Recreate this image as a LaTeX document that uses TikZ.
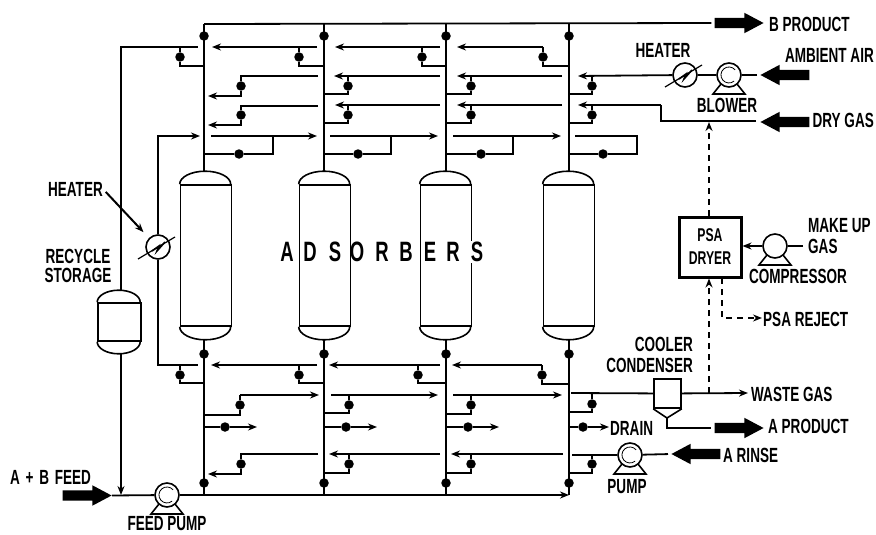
\documentclass[tikz,border=0pt]{standalone}
\usepackage{fontspec}
\setmainfont[FakeStretch=0.66]{Liberation Sans}
\usepackage{tikz}
\usetikzlibrary{shapes.arrows, arrows.meta}

\tikzset{
  pipe/.style={line width=1.8pt},
  dashline/.style={line width=1.5pt, dash pattern=on 6pt off 5pt},
  valve/.style={circle, fill=black, inner sep=0pt, minimum size=9.5pt},
  tank/.style={rectangle, draw, line width=1.6pt, inner sep=0pt},
  rotary/.style={circle, draw, fill=white, line width=1.6pt, inner sep=0pt, minimum size=24pt},
  fatarrow/.style={single arrow, anchor=tip, fill=black, inner sep=5pt, minimum height=49pt, minimum width=20pt, single arrow head extend=5pt, single arrow tip angle=56},
  lbl/.style={font=\fontsize{20.5}{22}\selectfont\bfseries, inner sep=0pt},
  bigletter/.style={font=\fontsize{28}{30}\selectfont\bfseries, inner sep=1pt},
}
\newcommand{\rotarybase}[1]{\draw[line width=1.6pt] (#1.center) +(-8,9) -- +(-16,19) -- +(16,19) -- +(8,9);}
\newcommand{\rotaryswirl}[1]{\draw[line width=.8pt] (#1.center) ++(5.1,6.1) arc[start angle=50, end angle=320, radius=8];}
\newcommand{\heatermark}[1]{
  \draw[line width=1.2pt] (#1.center) +(-20,12) -- +(17,-10);
  \draw[line width=1.6pt] (#1.center) +(-6,4) -- +(1,-1) -- +(-1,4) -- +(7,-5);
}

\begin{document}
\begin{tikzpicture}[x=1pt, y=-1pt, >={Stealth[length=9pt,width=7pt]}]
    \useasboundingbox (0,0) rectangle (876,535);

    % Adsorbers with their columns and valves
    \foreach \n/\xc/\xv in {1/204/206, 2/324/325, 3/446/446, 4/569/569}{
        \coordinate (head\n) at (\xc,24);
        \coordinate (foot\n) at (\xc,495);
        \coordinate (domet\n) at (\xc,172);
        \coordinate (domeb\n) at (\xc,339);
        \node[tank, minimum width=51pt, minimum height=141pt] (ves\n) at (\xv,255.5) {};
        \draw[line width=1.6pt] (ves\n.north west) arc[start angle=180, end angle=360, x radius=25.5, y radius=13];
        \draw[line width=1.6pt] (ves\n.south west) arc[start angle=180, end angle=0, x radius=25.5, y radius=13];
        \draw[pipe] (head\n) -- (domet\n);
        \draw[pipe] (domeb\n) -- (foot\n);
        \node[valve] (valu\n) at (\xc,36) {};
        \node[valve] (vall\n) at (\xc,354) {};
        \node[valve] (valf\n) at (\xc,483) {};
    }

    % Header and feed line
    \node[fatarrow] (bprod) at (764,23) {};
    \draw[pipe, shorten >=3pt] (head1) -- (bprod.tail);
    \node[fatarrow] (feed) at (112,495.5) {};
    \node[rotary] (feedpump) at (167,495) {};
    \rotarybase{feedpump}
    \rotaryswirl{feedpump}
    \draw[pipe] (feed.tip) -- (feedpump);
    \draw[pipe, ->] (feedpump) -- (foot4);

    % Branch lines between the columns: name/tip/end/valve/column/line/valve y/join y
    \foreach \n/\xa/\xb/\xv/\xc/\ya/\yv/\yj in {
        a1/212/317/299/324/47/57/66, a2/335/440/422/446/47/57/66, a3/457/543/543/569/47/57/66,
        b2/334/440/348/324/76/86/94, b3/457/562/471/446/76/86/94,
        c2/335/440/348/324/105/115/123, c3/457/562/471/446/105/115/123,
        e1/211/317/299/324/365/375/383, e2/329/440/418/446/365/375/383, e3/452/542/542/568/365/375/384,
        f1/319/240/240/204/395/405/415, f2/438/331/349/324/395/405/413, f3/562/453/471/446/395/405/414,
        h2/329/440/349/324/454/464/473, h3/451/563/471/446/454/464/473}{
        \coordinate (tip\n) at (\xa,\ya);
        \coordinate (end\n) at (\xb,\ya);
        \coordinate (join\n) at (\xc,\yj);
        \node[valve] (val\n) at (\xv,\yv) {};
        \draw[pipe, ->] (end\n) -- (tip\n);
        \draw[pipe] (val\n |- tip\n) -- (val\n) |- (join\n);
    }

    % Stepped lines in the first bay
    \foreach \n/\ya/\yv/\yb in {b1/76/86/96, c1/106/115/125, h1/454/464/474}{
        \coordinate (end\n) at (318,\ya);
        \coordinate (tip\n) at (208,\yb);
        \node[valve] (val\n) at (241,\yv) {};
        \draw[pipe] (end\n) -| (val\n);
        \draw[pipe, ->] (val\n) |- (tip\n);
    }

    % Regeneration loops
    \foreach \n/\xa/\xb/\xr/\xd/\xc in {1/211/317/273/239/204, 2/330/438/391/358/324, 3/453/561/513/481/446}{
        \coordinate (startd\n) at (\xa,136);
        \coordinate (tipd\n) at (\xb,136);
        \coordinate (joind\n) at (\xc,154);
        \node[valve] (vald\n) at (\xd,154) {};
        \draw[pipe, ->] (startd\n) -- (tipd\n);
        \draw[pipe] (\xr,136) |- (vald\n);
        \draw[pipe] (vald\n) -- (joind\n);
    }
    \coordinate (startd4) at (575,136);
    \coordinate (joind4) at (569,154);
    \node[valve] (vald4) at (603,154) {};
    \draw[pipe] (startd4) -| (637,154) -- (vald4);
    \draw[pipe] (vald4) -- (joind4);

    % Drains
    \foreach \n/\xc/\xd/\xa in {1/204/225/257, 2/324/346/377, 3/446/468/499, 4/568/583/609}{
        \coordinate (outg\n) at (\xc,427);
        \coordinate (tipg\n) at (\xa,427);
        \node[valve] (valg\n) at (\xd,427) {};
        \draw[pipe] (outg\n) -- (valg\n);
        \draw[pipe, ->] (valg\n) -- (tipg\n);
    }

    % Recycle storage and left heater
    \node[tank, minimum width=43pt, minimum height=38pt] (store) at (119.5,322) {};
    \draw[line width=1.6pt] (store.north west) arc[start angle=180, end angle=360, x radius=21.5, y radius=12];
    \draw[line width=1.6pt] (store.south west) arc[start angle=180, end angle=0, x radius=21.5, y radius=12];
    \coordinate (storet) at (121,291);
    \coordinate (storeb) at (121,353);
    \coordinate (storein) at (121,495);
    \coordinate (enda0) at (198,47);
    \coordinate (joina0) at (204,66);
    \node[valve] (vala0) at (180,57) {};
    \draw[pipe] (storet) |- (enda0);
    \draw[pipe] (vala0 |- enda0) -- (vala0) |- (joina0);
    \draw[pipe, ->] (storeb) -- (storein);

    \node[rotary] (heatl) at (158,247) {};
    \heatermark{heatl}
    \coordinate (tipd0) at (200,136);
    \coordinate (ende0) at (198,365);
    \coordinate (joine0) at (204,383);
    \node[valve] (vale0) at (180,375) {};
    \draw[pipe, ->] (heatl) |- (tipd0);
    \draw[pipe] (heatl) |- (ende0);
    \draw[pipe] (vale0 |- ende0) -- (vale0) |- (joine0);

    % Right of column 4
    \node[rotary] (heatr) at (685,75) {};
    \heatermark{heatr}
    \node[rotary] (blower) at (729,75) {};
    \rotarybase{blower}
    \rotaryswirl{blower}
    \node[fatarrow, shape border rotate=180] (ambient) at (760,75) {};
    \node[fatarrow, shape border rotate=180] (drygas) at (760,122) {};
    \coordinate (tipb4) at (578,76);
    \coordinate (joinb4) at (569,94);
    \node[valve] (valb4) at (592,86) {};
    \draw[pipe, shorten <=3pt] (ambient.tip) -- (blower);
    \draw[pipe] (blower) -- (heatr);
    \draw[pipe, ->] (heatr) -- (tipb4);
    \draw[pipe] (valb4 |- tipb4) -- (valb4) |- (joinb4);
    \coordinate (tipc4) at (578,105);
    \coordinate (joinc4) at (569,123);
    \coordinate (dryend) at (756,121);
    \node[valve] (valc4) at (592,115) {};
    \draw[pipe] (dryend) -| (661,105);
    \draw[pipe, ->] (661,105) -- (tipc4);
    \draw[pipe] (valc4 |- tipc4) -- (valc4) |- (joinc4);

    % Cooler condenser and products
    \node[tank, minimum width=27pt, minimum height=29pt] (cooler) at (667.5,393.5) {};
    \coordinate (conetip) at (667,418);
    \draw[line width=1.6pt] (cooler.south west) -- (conetip) -- (cooler.south east);
    \node[fatarrow] (aprod) at (764,428) {};
    \draw[pipe, shorten >=3pt] (conetip) |- (aprod.tail);
    \coordinate (wastetip) at (748,393);
    \draw[pipe, ->] (cooler) -- (wastetip);
    \coordinate (startf4) at (571,393);
    \coordinate (joinf4) at (568,412);
    \node[valve] (valf4b) at (592,404) {};
    \draw[pipe] (startf4) -- (cooler);
    \draw[pipe] (valf4b |- startf4) -- (valf4b) |- (joinf4);

    % Rinse pump
    \node[rotary] (pump) at (630,455) {};
    \rotarybase{pump}
    \rotaryswirl{pump}
    \node[fatarrow, shape border rotate=180] (rinse) at (671,454) {};
    \coordinate (starth4) at (572,455);
    \coordinate (joinh4) at (568,473);
    \node[valve] (valh4) at (592,464) {};
    \draw[pipe, shorten <=3pt] (rinse.tip) -- (pump);
    \draw[pipe] (starth4) -- (pump);
    \draw[pipe] (valh4 |- starth4) -- (valh4) |- (joinh4);

    % PSA dryer
    \node[draw, line width=3pt, minimum width=62pt, minimum height=60pt, inner sep=0pt, align=center,
          font=\fontsize{18.5}{23}\selectfont\bfseries] (dryer) at (710,247) {PSA\\DRYER};
    \node[rotary] (compressor) at (775,246) {};
    \rotarybase{compressor}
    \coordinate (makeup) at (803,246);
    \draw[pipe] (makeup) -- (compressor);
    \draw[pipe, ->] (compressor) -- (dryer.east |- compressor);
    \coordinate (dryin) at (709,122);
    \coordinate (wastetap) at (709,393);
    \coordinate (rejectout) at (722,278);
    \coordinate (rejecttip) at (762,318);
    \draw[dashline, ->] (dryer.north -| dryin) -- (dryin);
    \draw[dashline, ->] (wastetap) -- (dryer.south -| wastetap);
    \draw[dashline, ->] (rejectout) |- (rejecttip);

    % Labels
    \node[lbl, anchor=west] (lblbprod) at (769,24) {B PRODUCT};
    \node[lbl] (lblheatr) at (663,50) {HEATER};
    \node[lbl, anchor=east] (lblambient) at (874,55) {AMBIENT AIR};
    \node[lbl] (lblblower) at (727,105) {BLOWER};
    \node[lbl, anchor=east] (lbldry) at (874,120) {DRY GAS};
    \node[lbl, anchor=west] (lblmake) at (808,226) {MAKE UP};
    \node[lbl, anchor=west] (lblgas) at (808,246) {GAS};
    \node[lbl] (lblcompressor) at (798,276) {COMPRESSOR};
    \node[lbl, anchor=west] (lblreject) at (763,319) {PSA REJECT};
    \node[lbl, anchor=east] (lblcooler) at (693,344) {COOLER};
    \node[lbl, anchor=east] (lblcondenser) at (693,365) {CONDENSER};
    \node[lbl, anchor=west] (lblwaste) at (751,394) {WASTE GAS};
    \node[lbl, anchor=west] (lblaprod) at (768,426) {A PRODUCT};
    \node[lbl, anchor=west] (lbldrain) at (610,428) {DRAIN};
    \node[lbl, anchor=west] (lblrinse) at (723,455) {A RINSE};
    \node[lbl] (lblpump) at (627,487) {PUMP};
    \node[lbl] (lblfeedpump) at (167,524) {FEED PUMP};
    \node[lbl, anchor=west] (lblfeed) at (10,477) {A\hspace{2pt} + \hspace{2pt}B\hspace{2pt} FEED};
    \node[lbl] (lblstore) at (78,256) {RECYCLE};
    \node[lbl] (lblstoreb) at (78,275) {STORAGE};
    \node[lbl, anchor=east] (lblheatl) at (103,189) {HEATER};
    \draw[line width=2pt, ->, shorten <=4pt, shorten >=8pt] (lblheatl.east) -- (heatl.north west);

    % Adsorbers title
    \foreach \ch/\xp in {A/287, D/310, S/335, O/357, R/382, B/406, E/430, R/453}{
        \node[bigletter] (ads\xp) at (\xp,252) {\ch};
    }
    \node[bigletter, fill=white] (ads477) at (477,252) {S};
\end{tikzpicture}
\end{document}
